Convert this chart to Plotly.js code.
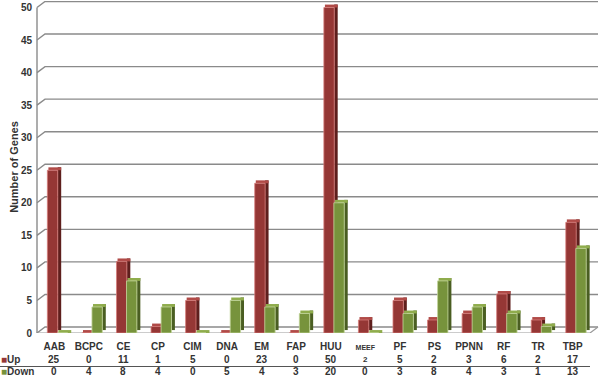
<!DOCTYPE html>
<html>
<head>
<meta charset="utf-8">
<script src="https://cdn.plot.ly/plotly-3.0.1.min.js"></script>
<style>html,body{margin:0;padding:0;background:#fff}#chart{width:600px;height:377px}</style>
</head>
<body>
<div id="chart"></div>
<script>
const categories = ['AAB','BCPC','CE','CP','CIM','DNA','EM','FAP','HUU','MEEF','PF','PS','PPNN','RF','TR','TBP'];
const upValues   = [25, 0, 11, 1, 5, 0, 23, 0, 50, 2, 5, 2, 3, 6, 2, 17];
const downValues = [0, 4, 8, 4, 0, 5, 4, 3, 20, 0, 3, 8, 4, 3, 1, 13];
const yTicks = [0, 5, 10, 15, 20, 25, 30, 35, 40, 45, 50];
const smallLabels = ['MEEF'];

const xs = categories.map((c, i) => i);
const DEPTH = 0.45;
const FACE_W = 0.3, SIDE_W = 0.1;
const FONT = 'Liberation Sans, Arial, sans-serif';

function series3d(vals, off, face, side, top, edge, name) {
  const tr = [];
  tr.push({type:'bar', x: xs, y: vals, base: vals.map(() => DEPTH), offset: off + FACE_W, width: SIDE_W,
    marker:{color: side, line:{width:0}}, hoverinfo:'skip', showlegend:false});
  tr.push({type:'bar', x: xs, y: vals.map(() => DEPTH), base: vals, offset: off + 0.03, width: FACE_W + SIDE_W - 0.03,
    marker:{color: top, line:{width:0}}, hoverinfo:'skip', showlegend:false});
  tr.push({type:'bar', x: xs, y: vals, offset: off, width: FACE_W, name: name,
    marker:{color: face, line:{color: edge, width: 0.8}}, showlegend:false});
  return tr;
}

const data = [].concat(
  series3d(upValues, -0.2, '#953735', '#5e1f1d', '#b04a47', '#d67c7a', 'Up'),
  series3d(downValues, 0.09, '#77933c', '#4a5e22', '#8fac4c', '#c3d69b', 'Down')
);

const ticktext = categories.map(c => smallLabels.includes(c)
  ? `<b><span style="font-size:7px">${c}</span></b>` : `<b>${c}</b>`);

const annotations = [];
categories.forEach((c, i) => {
  const small = smallLabels.includes(c);
  annotations.push({xref:'x', yref:'paper', x: i, y: 0, yshift: -26.5, yanchor:'middle', showarrow:false,
    text: `<b>${upValues[i]}</b>`, font:{family: FONT, size: small ? 8 : 10, color:'#333'}});
  annotations.push({xref:'x', yref:'paper', x: i, y: 0, yshift: -38.5, yanchor:'middle', showarrow:false,
    text: `<b>${downValues[i]}</b>`, font:{family: FONT, size: 10, color:'#333'}});
});
annotations.push({xref:'paper', yref:'paper', x: 0, y: 0, xanchor:'left', yanchor:'middle', xshift: -38, yshift: -26.5,
  text: '<span style="color:#953735">■</span><b>Up</b>', showarrow:false, font:{family: FONT, size:10, color:'#333'}});
annotations.push({xref:'paper', yref:'paper', x: 0, y: 0, xanchor:'left', yanchor:'middle', xshift: -38, yshift: -38.5,
  text: '<span style="color:#77933c">■</span><b>Down</b>', showarrow:false, font:{family: FONT, size:10, color:'#333'}});

const shapes = [];
yTicks.forEach(v => {
  shapes.push({type:'path', xref:'paper', yref:'y', xsizemode:'pixel', ysizemode:'pixel',
    xanchor: 0, yanchor: v, path: 'M0,0 L8,6 L561,6', line:{color:'#8a8a8a', width:1.4}, layer:'below'});
});
shapes.push({type:'path', xref:'paper', yref:'y', xsizemode:'pixel', ysizemode:'pixel',
  xanchor: 0, yanchor: 0, path: 'M0,0 L553,0 L561,6', line:{color:'#9a9a9a', width:1.2}, layer:'below'});
shapes.push({type:'line', xref:'paper', yref:'y', x0: 0, x1: 0, y0: 0, y1: yTicks[yTicks.length - 1],
  line:{color:'#8a8a8a', width:1.4}, layer:'below'});
shapes.push({type:'line', xref:'paper', yref:'paper', xsizemode:'pixel', ysizemode:'pixel',
  xanchor: 0, yanchor: 0, x0: -37, x1: 553, y0: -33.5, y1: -33.5, line:{color:'#555', width:1.2}});

const layout = {
  width: 600, height: 377,
  margin: {l: 37, r: 10, t: 1, b: 44},
  paper_bgcolor: '#fff', plot_bgcolor: 'rgba(0,0,0,0)',
  barmode: 'overlay',
  font: {family: FONT, color: '#333'},
  xaxis: {range: [-0.5, 15.5], tickmode: 'array', tickvals: xs, ticktext: ticktext,
    showgrid: false, zeroline: false, showline: false, ticks: '',
    tickfont: {size: 10, color: '#333'}, ticklabelstandoff: 6, fixedrange: true},
  yaxis: {range: [0, 51], tickmode: 'array', tickvals: yTicks, showgrid: false, zeroline: false,
    showline: false, ticks: '',
    tickfont: {size: 10, color: '#333', weight: 700}, ticklabelstandoff: 4,
    title: {text: '<b>Number of Genes</b>', font: {size: 11, color: '#333'}, standoff: 0}},
  shapes: shapes,
  annotations: annotations
};

Plotly.newPlot('chart', data, layout, {staticPlot: true});
</script>
</body>
</html>
